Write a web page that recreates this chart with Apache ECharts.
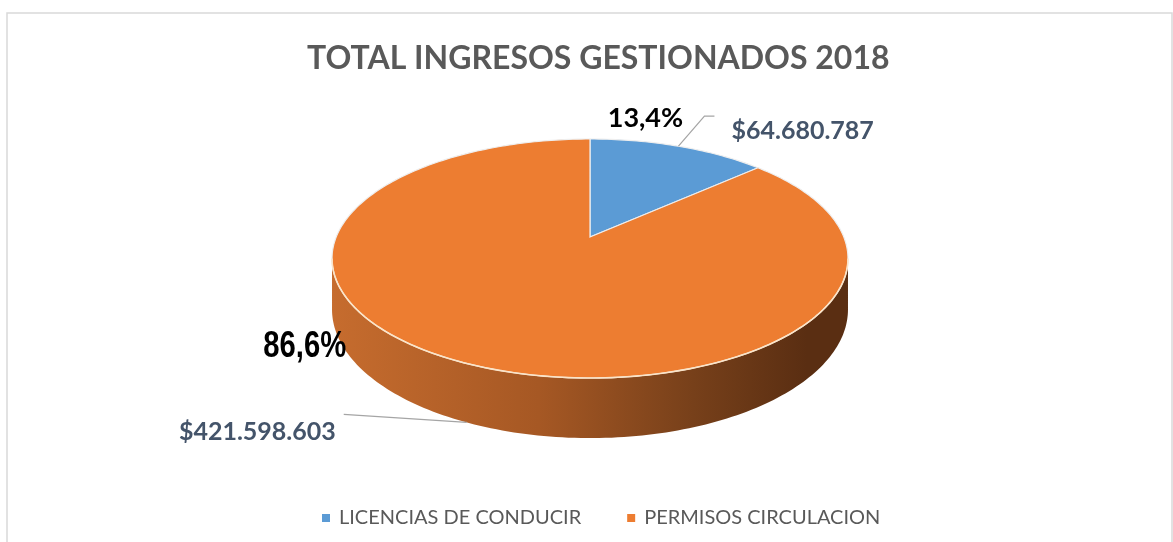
<!DOCTYPE html>
<html>
<head>
<meta charset="utf-8">
<title>Total ingresos gestionados 2018</title>
<script src="https://cdn.jsdelivr.net/npm/echarts@6/dist/echarts.min.js"></script>
<style>
  html, body { margin: 0; padding: 0; background: #fff; }
  #chart { width: 1173px; height: 542px; }
</style>
</head>
<body>
<div id="chart"></div>
<script>
// datos
const categories = ["LICENCIAS DE CONDUCIR", "PERMISOS CIRCULACION"];
const values = [64680787, 421598603];
const valueLabels = ["$64.680.787", "$421.598.603"];
const pctLabels = ["13,4%", "86,6%"];

const colorList = ["#5b9bd5", "#ed7d31"];
// colores del lateral (izq -> der)
const sideStops = [
  ["#4f8cc4", "#3d72a6", "#2c5680", "#22456a"],
  ["#c66c2e", "#a65824", "#77401a", "#5a2e12"],
];

// geometria del pastel 3D (perspectiva)
const CX = 590, CY = 237;
const A = 1411, B = 643, D = 5.56, H = 274;
const total = values.reduce((a, b) => a + b, 0);
const visA = Math.acos(-1 / D);
const visB = 2 * Math.PI - visA;

function proj(phi, down) {
  const u = Math.sin(phi), v = -Math.cos(phi);
  const s = 1 / (D - v);
  return [CX + A * u * s, CY + B * v * s + (down ? H * s : 0)];
}

function arc(a0, a1, down) {
  const pts = [];
  const n = Math.max(2, Math.ceil((a1 - a0) / 0.02));
  for (let k = 0; k <= n; k++) {
    pts.push(proj(a0 + ((a1 - a0) * k) / n, down));
  }
  return pts;
}

// posiciones de etiquetas respecto al punto de anclaje
const labelLayout = [
  { elbow: [26, -30], end: [36, -30], val: [53, -15], valAlign: "left", pct: [-33, -28], pctFont: ["Lato", 27, 1] },
  { elbow: [-123, -8], end: [-123, -8], val: [-131, 9], valAlign: "right", pct: [-162, -76], pctFont: ["Liberation Sans", 37, 0.79] },
];

function makeRender(idx) {
  return function (params, api) {
    let cum = 0;
    for (let i = 0; i < idx; i++) cum += values[i];
    const a0 = (2 * Math.PI * cum) / total;
    const a1 = a0 + (2 * Math.PI * api.value(0)) / total;
    const children = [];

    // lateral
    const s0 = Math.max(a0, visA), s1 = Math.min(a1, visB);
    if (s1 > s0) {
      const top = arc(s0, s1, false);
      const bot = arc(s0, s1, true).reverse();
      const stops = sideStops[idx];
      children.push({
        type: "polygon",
        z2: 1,
        shape: { points: top.concat(bot) },
        style: {
          fill: {
            type: "linear", x: CX - 258, y: 0, x2: CX + 258, y2: 0, global: true,
            colorStops: [
              { offset: 0, color: stops[0] },
              { offset: 0.4, color: stops[1] },
              { offset: 0.7, color: stops[2] },
              { offset: 0.92, color: stops[3] },
              { offset: 1, color: stops[3] },
            ],
          },
        },
      });
      children.push({
        type: "polyline",
        z2: 12,
        shape: { points: top },
        style: { stroke: "#fbe4c8", lineWidth: 1.6, fill: null },
      });
    }

    // cara superior
    children.push({
      type: "polygon",
      z2: 10,
      shape: { points: [[CX, CY]].concat(arc(a0, a1, false)) },
      style: { fill: colorList[idx], stroke: "#eeeeee", lineWidth: 1.2 },
    });

    // etiquetas
    const mid = (a0 + a1) / 2;
    const front = -Math.cos(mid) > 0;
    const p = proj(mid, front);
    const L = labelLayout[idx];
    children.push({
      type: "polyline",
      z2: 20,
      shape: {
        points: [p, [p[0] + L.elbow[0], p[1] + L.elbow[1]], [p[0] + L.end[0], p[1] + L.end[1]]],
      },
      style: { stroke: "#a5a5a5", lineWidth: 1.2, fill: null },
    });
    children.push({
      type: "text",
      z2: 20,
      x: p[0] + L.val[0],
      y: p[1] + L.val[1],
      style: {
        text: valueLabels[idx],
        fill: "#44546a",
        fontFamily: "Lato",
        fontSize: 25,
        fontWeight: "bold",
        align: L.valAlign,
        verticalAlign: "middle",
      },
    });
    children.push({
      type: "text",
      z2: 20,
      x: p[0] + L.pct[0],
      y: p[1] + L.pct[1],
      scaleX: L.pctFont[2],
      style: {
        text: pctLabels[idx],
        fill: "#000000",
        fontFamily: L.pctFont[0],
        fontSize: L.pctFont[1],
        fontWeight: "bold",
        align: "center",
        verticalAlign: "middle",
      },
    });

    return { type: "group", children: children };
  };
}

const chart = echarts.init(document.getElementById("chart"), null, { renderer: "canvas" });

chart.setOption({
  backgroundColor: "#fff",
  animation: false,
  graphic: [
    {
      type: "rect",
      shape: { x: 7, y: 13, width: 1165, height: 540 },
      style: { fill: null, stroke: "#d9d9d9", lineWidth: 1.5 },
      silent: true,
    },
  ],
  title: {
    text: "TOTAL INGRESOS GESTIONADOS 2018",
    left: 302,
    top: 38,
    textStyle: {
      fontFamily: "Lato",
      fontSize: 32,
      fontWeight: "bold",
      color: "#595959",
    },
  },
  legend: {
    left: 317,
    top: 503,
    icon: "rect",
    itemWidth: 8,
    itemHeight: 8,
    itemGap: 46,
    data: categories,
    textStyle: {
      fontFamily: "Lato",
      fontSize: 20,
      color: "#595959",
      padding: [0, 0, 0, 4],
    },
  },
  series: categories.map((name, i) => ({
    name: name,
    type: "custom",
    coordinateSystem: "none",
    itemStyle: { color: colorList[i] },
    data: [[values[i]]],
    renderItem: makeRender(i),
  })),
});
</script>
</body>
</html>
